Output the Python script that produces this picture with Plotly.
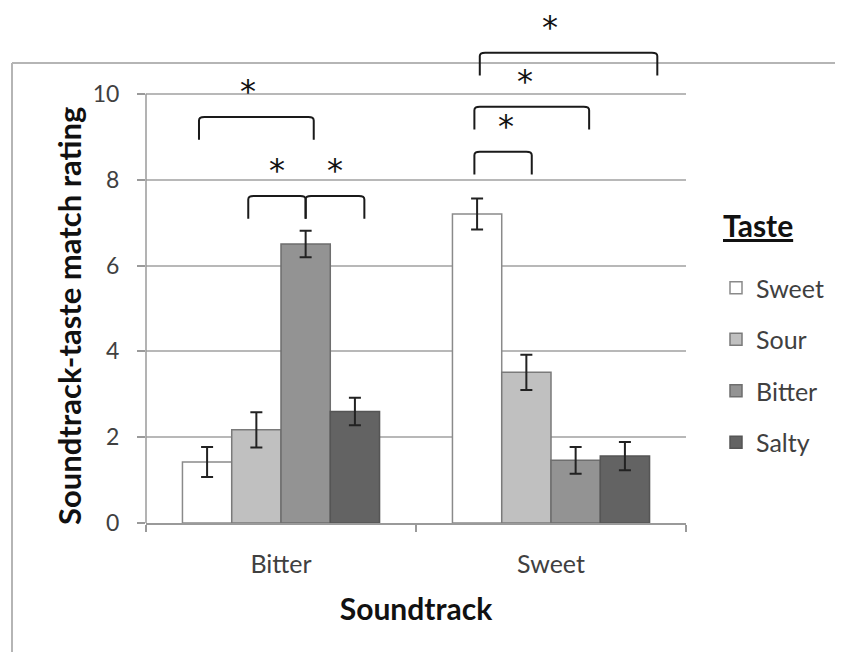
import plotly.graph_objects as go

# ---------------- data ----------------
soundtracks = ["Bitter", "Sweet"]
tastes = ["Sweet", "Sour", "Bitter", "Salty"]
rating_sweet = [1.42, 7.20]
rating_sour = [2.17, 3.51]
rating_bitter = [6.50, 1.46]
rating_salty = [2.60, 1.56]
err_sweet = [0.35, 0.36]
err_sour = [0.41, 0.41]
err_bitter = [0.31, 0.31]
err_salty = [0.32, 0.33]
y_ticks = [0, 2, 4, 6, 8, 10]

# significance comparisons: (soundtrack, taste from, taste to, bracket top level)
sig_group = ["Bitter", "Bitter", "Bitter", "Sweet", "Sweet", "Sweet"]
sig_from = ["Sweet", "Sour", "Bitter", "Sweet", "Sweet", "Sweet"]
sig_to = ["Bitter", "Bitter", "Salty", "Salty", "Bitter", "Sour"]
sig_level = [9.46, 7.62, 7.62, 10.96, 9.70, 8.65]

# ---------------- style / layout ----------------
W, H = 843, 652          # window size
OFF = 8                  # page body margin
REF_L, REF_R, REF_B = 146, 686, 523   # plot area in window pixels
PL, PR, PB = REF_L - OFF, REF_R - OFF, REF_B - OFF
PT = 0
Y_MAX = 12
BARGAP = 0.27
FONT = "Lato, 'Open Sans', sans-serif"
colors = ["#ffffff", "#c0c0c0", "#939393", "#636363"]
outlines = ["#8a8a8a", "#7a7a7a", "#6e6e6e", "#555555"]
# small hand-drawn offsets of bracket ends / stars (category units)
nudge_left = [-0.03, -0.03, 0.0, 0.01, -0.01, -0.01]
nudge_right = [0.03, 0.0, 0.035, 0.12, 0.05, 0.02]
star_dx = [-0.03, 0.0, 0.0, -0.07, -0.025, 0.01]
LEG_DROP = 0.53


def px_x(p):
    """window x pixel -> paper x"""
    return (p - OFF - PL) / (PR - PL)


def px_y(p):
    """window y pixel -> paper y"""
    return (PB - (p - OFF)) / (PB - PT)


values = [rating_sweet, rating_sour, rating_bitter, rating_salty]
errors = [err_sweet, err_sour, err_bitter, err_salty]

fig = go.Figure()
for i, t in enumerate(tastes):
    fig.add_trace(go.Bar(
        name=t, x=soundtracks, y=values[i],
        marker=dict(color=colors[i], line=dict(color=outlines[i], width=1.5)),
        error_y=dict(type="data", array=errors[i], color="#222222", thickness=2, width=6),
        legendgroup=t,
    ))

bar_w = (1 - BARGAP) / len(tastes)


def bar_center(group, taste):
    return soundtracks.index(group) + (tastes.index(taste) - (len(tastes) - 1) / 2) * bar_w


shapes = []
annotations = []
for k in range(len(sig_group)):
    x0 = bar_center(sig_group[k], sig_from[k]) + nudge_left[k]
    x1 = bar_center(sig_group[k], sig_to[k]) + nudge_right[k]
    top = sig_level[k]
    bot = top - LEG_DROP
    path = (f"M {x0} {bot} L {x0} {top - 0.08} Q {x0} {top} {x0 + 0.02} {top} "
            f"L {x1 - 0.02} {top} Q {x1} {top} {x1} {top - 0.08} L {x1} {bot}")
    shapes.append(dict(type="path", xref="x", yref="y", path=path,
                       line=dict(color="#1a1a1a", width=2)))
    annotations.append(dict(x=(x0 + x1) / 2 + star_dx[k], y=top, xref="x", yref="y",
                            text="*", showarrow=False, yanchor="bottom", yshift=5,
                            font=dict(family="DejaVu Sans", size=32, color="#111111")))

# legend heading
annotations.append(dict(x=px_x(721), y=px_y(225), xref="paper", yref="paper",
                        xanchor="left", yanchor="middle", showarrow=False,
                        text="<b><u>Taste</u></b>",
                        font=dict(family=FONT, size=30, color="#111111")))
# y axis title
annotations.append(dict(x=px_x(69), y=px_y(316), xref="paper", yref="paper",
                        xanchor="center", yanchor="middle", showarrow=False, textangle=-90,
                        text="<b>Soundtrack-taste match rating</b>",
                        font=dict(family=FONT, size=31, color="#111111")))

# chart-area border (top and left edges visible)
shapes.append(dict(type="line", xref="paper", yref="paper", x0=px_x(12), x1=px_x(W + 20),
                   y0=px_y(63), y1=px_y(63), line=dict(color="#b5b5b5", width=2), layer="below"))
shapes.append(dict(type="line", xref="paper", yref="paper", x0=px_x(12), x1=px_x(12),
                   y0=px_y(63), y1=px_y(H + 20), line=dict(color="#b5b5b5", width=2), layer="below"))
# y axis line from 0 to the top tick
shapes.append(dict(type="line", xref="paper", yref="paper", x0=0, x1=0,
                   y0=0, y1=y_ticks[-1] / Y_MAX, line=dict(color="#9a9a9a", width=1.5)))

fig.update_layout(
    width=W - OFF, height=H - OFF,
    margin=dict(l=PL, r=W - OFF - PR, t=PT, b=H - OFF - PB, autoexpand=False),
    paper_bgcolor="white", plot_bgcolor="white",
    barmode="group", bargap=BARGAP, bargroupgap=0,
    font=dict(family=FONT, color="#404040"),
    shapes=shapes, annotations=annotations,
    showlegend=True,
    legend=dict(
        x=px_x(716), y=px_y(265), xanchor="left", yanchor="top",
        font=dict(size=25, color="#404040"),
        tracegroupgap=16, traceorder="grouped",
        bgcolor="rgba(0,0,0,0)",
    ),
)
fig.update_yaxes(
    range=[0, Y_MAX], tickvals=y_ticks, showgrid=True, gridcolor="#b8b8b8", gridwidth=1.5,
    zeroline=False, showline=False, ticks="outside", ticklen=8, tickcolor="#9a9a9a",
    tickwidth=1.5, ticklabelstandoff=13, tickfont=dict(size=23, color="#404040"),
    automargin=False,
)
fig.update_xaxes(
    showline=True, linecolor="#9a9a9a", linewidth=1.5, ticks="outside", tickson="boundaries",
    ticklen=7, tickcolor="#9a9a9a", tickwidth=1.5, ticklabelstandoff=18,
    tickfont=dict(size=25, color="#404040"),
    title=dict(text="<b>Soundtrack</b>", font=dict(size=30, color="#111111"), standoff=22),
    automargin=False, range=[-0.5, 1.5],
)

fig.write_html("out.html")
